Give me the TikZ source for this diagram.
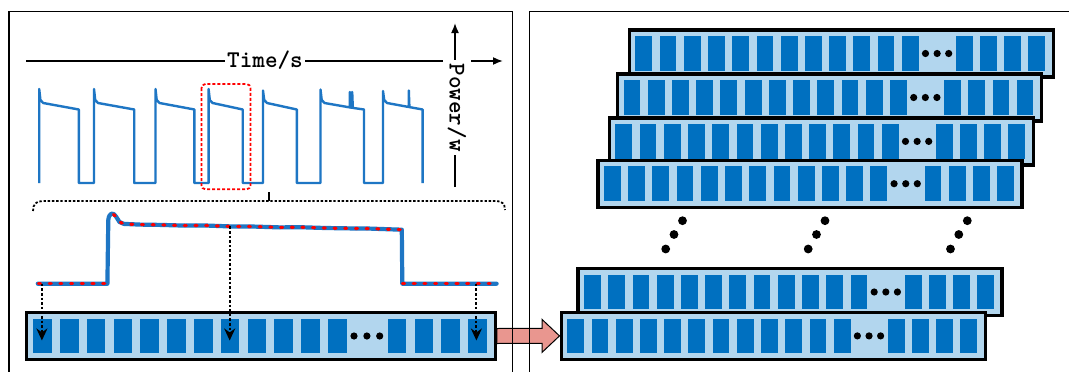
\documentclass[tikz,border=0pt]{standalone}
\usetikzlibrary{arrows.meta,calc,backgrounds}
\definecolor{wave}{RGB}{30,118,196}
\definecolor{blkblue}{RGB}{0,112,192}
\definecolor{lblue}{RGB}{178,214,238}
\definecolor{pinkarr}{RGB}{233,150,143}
\definecolor{rdot}{RGB}{255,0,0}
\tikzset{
  barbox/.style={draw=black, line width=3.4pt, fill=lblue, minimum height=47pt, inner sep=0pt},
  blockfill/.style={fill=blkblue},
  panel/.style={draw=black, line width=1.3pt},
  axisline/.style={line width=1.6pt, black},
  axislabel/.style={font=\ttfamily\bfseries\fontsize{24}{24}\selectfont, fill=white, text=black},
  topwave/.style={draw=wave, line width=2.4pt, line join=round},
  botwave/.style={draw=wave, line width=4.2pt, line join=round, line cap=round},
  reddots/.style={draw=rdot, line width=3.2pt, line cap=round, dash pattern=on 2pt off 8.7pt},
  dotarrow/.style={line width=2pt, dash pattern=on 2.6pt off 2pt, -{Stealth[length=12pt,width=11pt]}},
  bracedots/.style={line width=1.8pt, dash pattern=on 2.4pt off 1.8pt},
  redbox/.style={draw=rdot, line width=1.8pt, dash pattern=on 3pt off 2pt, rounded corners=4pt},
  pinkarrow/.style={fill=pinkarr, draw=black, line width=1pt},
}
\newcommand\vecbar[4]{%
  \node[barbox, minimum width=#4pt, anchor=west] (#1) at (#2,#3) {};
  \begin{scope}[shift={(#1.west)}, xscale=#4/469]
    \foreach \k [count=\i] in {0,...,11}{
      \fill[blockfill] (8.6+26.8*\k,-17.25) rectangle ++(18.6,34.5);
      \coordinate (#1-\i) at (17.9+26.8*\k,0);}
    \foreach \k [count=\i from 13] in {0,...,3}{
      \fill[blockfill] (363.3+26.7*\k,-17.25) rectangle ++(18.6,34.5);
      \coordinate (#1-\i) at (372.6+26.7*\k,0);}
    \coordinate (#1-d1) at (329.5,0);
    \coordinate (#1-d2) at (342.4,0);
    \coordinate (#1-d3) at (355.2,0);
  \end{scope}
  \foreach \d in {1,2,3}{\fill (#1-d\d) circle[radius=3.6];}
}
\begin{document}
\begin{tikzpicture}[x=1pt,y=-1pt]
\clip (0,0) rectangle (1069,372);

% ---------- top waveform ----------
\draw[topwave] (39.2,183) -- (39.2,89) -- (40.4,100) -- (43.2,103) -- (78.8,109.5) -- (78.8,183)
 -- (94,183) -- (94,89) -- (95.2,100) -- (98,103) -- (134.2,109.5) -- (134.2,183)
 -- (155.5,183) -- (155.5,89) -- (156.7,100) -- (159.5,103) -- (194.4,109.5) -- (194.4,183)
 -- (208.6,183) -- (208.6,89) -- (209.8,100) -- (212.6,103) -- (242.7,109.5) -- (242.7,183)
 -- (263,183) -- (263,90.5) -- (264.2,100) -- (267,103) -- (296.8,109.5) -- (296.8,183)
 -- (320.5,183) -- (320.5,89.5) -- (321.7,100) -- (324.5,103) -- (349.8,107.4) -- (349.8,92) -- (350.4,107.5)
    -- (352.2,107.8) -- (352.2,92) -- (352.8,107.9) -- (364,109.5) -- (364,183)
 -- (383,183) -- (383,91) -- (384.2,100) -- (387,103) -- (408.8,107) -- (408.8,90.5) -- (409.4,107.1)
    -- (422.6,109.5) -- (422.6,183);

% zoom marker
\draw[redbox] (201.5,84) rectangle (250.5,189.3);

% ---------- axes ----------
\coordinate (xa) at (26,61);
\coordinate (xb) at (503,61);
\coordinate (ya) at (455,187);
\coordinate (yb) at (455,23);
\draw[axisline,-{Latex[length=10pt,width=8pt]}] (xa) -- (xb);
\draw[axisline,-{Latex[length=10pt,width=8pt]}] (ya) -- (yb);
\node[axislabel, anchor=base, inner xsep=2.5pt, inner ysep=1pt] (time) at (265,67.3) {Time/s};
\node[axislabel, rotate=-90, inner xsep=3pt, inner ysep=5pt] (power) at (457,107.5) {Power/w};

% ---------- brace ----------
\draw[bracedots] (33,211) .. controls (33,204) and (36,201) .. (43,201) -- (496,201)
  .. controls (502,201) and (505,204) .. (505,210);
\coordinate (bt) at (269,192);
\coordinate (bb) at (269,201);
\draw[line width=1.8pt] (bt) -- (bb);

% ---------- zoomed waveform ----------
\draw[botwave] (37.8,283.7) -- (107.4,283.7) -- (108.3,220) .. controls (109,213) and (113,211.5) .. (116,216.5)
 -- (119.5,222) -- (124,223.9) -- (140,224.6) -- (160,224.9) -- (185,225.6) -- (205,225.5) -- (230,226.4)
 -- (255,226.6) -- (280,227.4) -- (300,227.2) -- (325,228.0) -- (350,228.4) -- (370,228.6) -- (390,229.3)
 -- (401.8,229.7) -- (402.3,283.7) -- (496.6,283.7);
\draw[reddots] (38.5,283.7) -- (107,283.7);
\draw[reddots] (113.5,214.5) -- (116,216.5) -- (119.5,222) -- (124,223.9) -- (140,224.6) -- (160,224.9) -- (185,225.6)
 -- (205,225.5) -- (230,226.4) -- (255,226.6) -- (280,227.4) -- (300,227.2) -- (325,228.0) -- (350,228.4)
 -- (370,228.6) -- (390,229.3) -- (401,229.7);
\draw[reddots] (402.5,283.7) -- (496.5,283.7);

\coordinate (p1) at (41.9,283.7);
\coordinate (p2) at (229.7,226.4);
\coordinate (p3) at (476.4,283.7);

% ---------- left vector ----------
\vecbar{L}{24.5}{336}{469}
\draw[dotarrow] (p1) -- ($(p1 |- L-1)+(0,4.5)$);
\draw[dotarrow] (p2) -- ($(p2 |- L-8)+(0,4.5)$);
\draw[dotarrow] (p3) -- ($(p3 |- L-16)+(0,4.5)$);

% ---------- right stack ----------
\vecbar{A}{627.6}{53.5}{424}
\vecbar{B}{615.8}{97.5}{424}
\vecbar{C}{607.6}{141.4}{424}
\vecbar{D}{596.2}{183.7}{424}
\foreach \dx in {0,142.5,284.8}{
  \fill (682.5+\dx,220.7) circle[radius=4.4];
  \fill (674+\dx,234.5) circle[radius=4.4];
  \fill (665.7+\dx,249) circle[radius=4.4];
}
\vecbar{E}{576.3}{292}{424}
\vecbar{F}{559.5}{335.9}{424}

% ---------- background: arrow and panels ----------
\begin{scope}[on background layer]
  \fill[white] (0,0) rectangle (1069,372);
  \path[pinkarrow] ($(L.east)+(0,-7.5)$) -- ($(F.west)+(-17.5,-7.5)$) -- ($(F.west)+(-17.5,-16.5)$)
    -- (F.west) -- ($(F.west)+(-17.5,16.5)$) -- ($(F.west)+(-17.5,7.5)$) -- ($(L.east)+(0,7.5)$) -- cycle;
  \draw[panel] (9,11.8) rectangle (512.6,390);
  \draw[panel] (529.6,11.8) rectangle (1090,390);
\end{scope}
\end{tikzpicture}
\end{document}
